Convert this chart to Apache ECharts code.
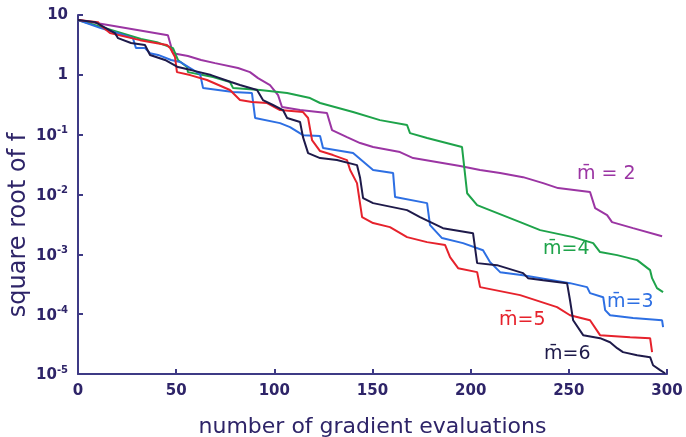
<!DOCTYPE html>
<html><head><meta charset="utf-8">
<script src="https://cdn.jsdelivr.net/npm/echarts@6/dist/echarts.min.js"></script>
<style>html,body{margin:0;padding:0;background:#fff}#c{width:686px;height:437px}</style>
</head><body><div id="c"></div>
<script>
// x-axis ticks and y-axis decades
var xTicks = [0, 50, 100, 150, 200, 250, 300];
var yDecades = [1e-5, 1e-4, 1e-3, 1e-2, 1e-1, 1, 10];
var seriesNames = ['m̄ = 2', 'm̄=4', 'm̄=3', 'm̄=5', 'm̄=6'];
var yTitle = 'square root of f';

var m2 = [[0,8.25],[15.3,6.8],[45.8,4.6],[48.4,2.3],[56,2.06],[62.7,1.77],[69.8,1.57],[81.5,1.30],[87.6,1.11],[91.7,0.88],[97.8,0.675],[101.9,0.459],[103.9,0.29],[113.1,0.258],[126.8,0.23],[129.4,0.119],[137,0.091],[143.7,0.0724],[150.3,0.0621],[164,0.0512],[170.7,0.0406],[194.6,0.0299],[204.8,0.0256],[215,0.0228],[226.7,0.0195],[236.9,0.0155],[244.5,0.0128],[260.8,0.011],[263.4,0.00593],[269.5,0.00453],[272,0.00345],[282.7,0.00274],[297.5,0.00201]];
var m4 = [[0,8.25],[32.1,3.97],[40.2,3.5],[48.4,2.8],[50.9,1.77],[55.5,1.35],[56,1.11],[68.8,0.92],[77.4,0.76],[79,0.60],[92.7,0.557],[106.5,0.496],[118.2,0.409],[123.3,0.338],[140.1,0.239],[153.8,0.175],[167.6,0.145],[169.1,0.106],[177.8,0.0878],[195.6,0.0621],[198.2,0.0105],[203.3,0.00665],[225.2,0.00345],[235.4,0.00254],[252.2,0.00194],[262.4,0.00154],[265.9,0.00109],[274.6,0.00097],[284.8,0.0008],[291.4,0.000544],[292.4,0.0004],[294.9,0.000272],[298,0.000233]];
var m3 = [[0,8.25],[11.2,6.1],[19.9,5.0],[28,4.1],[29.5,2.8],[34.1,2.8],[36.7,2.3],[40.8,2.15],[47.4,1.77],[52,1.64],[57.1,1.3],[62.2,1.03],[63.7,0.60],[79,0.515],[88.6,0.496],[90.2,0.19],[102.9,0.156],[108,0.134],[114.6,0.098],[123.3,0.095],[124.8,0.0597],[140.1,0.0492],[150.3,0.0256],[160.5,0.0228],[161.5,0.00905],[177.8,0.00718],[179.3,0.00308],[185.4,0.00187],[196.1,0.00154],[206.3,0.00117],[209.9,0.00074],[215,0.000504],[226.7,0.000449],[250.6,0.00033],[259.3,0.000283],[260.8,0.000225],[267.5,0.000192],[268.5,0.000117],[271,0.000096],[282.7,0.000086],[297.5,0.000079],[298,0.0000607]];
var m5 = [[0,8.25],[10.2,7.6],[11.2,6.8],[16.3,5.0],[31.6,3.8],[45.3,3.15],[46.9,2.8],[49.4,1.99],[50.4,1.11],[57.1,0.99],[65.7,0.82],[77.4,0.557],[82.5,0.379],[88.6,0.351],[96.3,0.338],[102.9,0.258],[114.6,0.239],[117.2,0.19],[119.2,0.0813],[123.3,0.0532],[129.9,0.0456],[137,0.0376],[138.6,0.0256],[142.1,0.0155],[144.7,0.00419],[150.3,0.00333],[158.9,0.00285],[167.6,0.00194],[177.8,0.0016],[187,0.00143],[189.5,0.000897],[193.6,0.000587],[203.3,0.000504],[204.8,0.000283],[225.2,0.000208],[244,0.000131],[250.6,0.000096],[260.8,0.000079],[265.9,0.0000446],[281.2,0.0000412],[291.4,0.0000397],[292.4,0.0000232]];
var m6 = [[0,8.25],[8.7,7.6],[18.8,5.0],[20.4,4.1],[27,3.4],[34.1,3.15],[36.7,2.15],[44.3,1.77],[50.9,1.35],[57.6,1.2],[67.8,0.99],[77.9,0.76],[82.5,0.675],[91.2,0.557],[94.2,0.379],[99.3,0.313],[104.4,0.258],[106.5,0.19],[113.1,0.163],[114.6,0.091],[117.2,0.0492],[123.3,0.0406],[131.9,0.0376],[142.1,0.031],[143.7,0.0188],[145.2,0.00871],[150.3,0.00718],[167.6,0.00548],[174.2,0.00419],[185.9,0.00274],[201.2,0.00226],[203.3,0.000713],[213.4,0.00066],[226.7,0.000485],[229.2,0.0004],[236.9,0.00037],[249.1,0.00033],[250.6,0.000171],[252.2,0.000079],[257.3,0.0000446],[265.9,0.0000397],[271,0.000034],[274.6,0.000027],[277.6,0.0000232],[284.8,0.0000206],[291.4,0.0000191],[292.9,0.000014],[296.5,0.0000116],[299,0.0000103]];

var colors = ['#9b35a3', '#1ea34a', '#2d6fe3', '#e6222c', '#1e1a4a'];
var ink = '#2e2468';
var font = 'DejaVu Sans';

var chart = echarts.init(document.getElementById('c'), null, {renderer: 'canvas'});
function mk(name, data, color) {
  return {name: name, type: 'line', data: data, showSymbol: false, symbol: 'none',
    lineStyle: {color: color, width: 2}, animation: false, z: 3};
}
chart.setOption({
  animation: false,
  backgroundColor: '#fff',
  grid: {left: 78, right: 19, top: 15, bottom: 63, containLabel: false, outerBoundsMode: 'none'},
  xAxis: {
    type: 'value', min: xTicks[0], max: xTicks[xTicks.length - 1], interval: 50,
    axisLine: {lineStyle: {color: '#3e3a85', width: 2}},
    axisTick: {inside: true, length: 5, lineStyle: {color: '#3e3a85', width: 2}},
    splitLine: {show: false},
    axisLabel: {color: ink, fontFamily: font, fontSize: 15, fontWeight: 'bold', margin: 10},
    name: 'number of gradient evaluations', nameLocation: 'middle', nameGap: 42,
    nameTextStyle: {color: ink, fontFamily: font, fontSize: 22}
  },
  yAxis: {
    type: 'log', logBase: 10, min: yDecades[0], max: yDecades[yDecades.length - 1],
    axisLine: {lineStyle: {color: '#3e3a85', width: 2}},
    axisTick: {inside: true, length: 5, lineStyle: {color: '#3e3a85', width: 2}},
    splitLine: {show: false},
    axisLabel: {
      margin: 10,
      formatter: function (v) {
        var e = Math.round(Math.log10(v));
        if (e === 1) return '{b|10}';
        if (e === 0) return '{b|1}';
        return '{b|10}{s|' + e + '}';
      },
      rich: {
        b: {color: ink, fontFamily: font, fontSize: 15, fontWeight: 'bold', verticalAlign: 'bottom'},
        s: {color: ink, fontFamily: font, fontSize: 10, fontWeight: 'bold', verticalAlign: 'top', padding: [0, 0, 8, 0]}
      }
    }
  },
  series: [mk(seriesNames[0], m2, colors[0]), mk(seriesNames[1], m4, colors[1]),
           mk(seriesNames[2], m3, colors[2]), mk(seriesNames[3], m5, colors[3]),
           mk(seriesNames[4], m6, colors[4])],
  graphic: [
    {type: 'text', x: 19, y: 225, rotation: Math.PI / 2,
      style: {text: yTitle, fill: ink, font: '24px "DejaVu Sans"', align: 'center', verticalAlign: 'middle'}},
    {type: 'text', left: 577, top: 165, style: {text: seriesNames[0], fill: colors[0], font: '19px "DejaVu Sans"'}},
    {type: 'text', left: 543, top: 240, style: {text: seriesNames[1], fill: colors[1], font: '19px "DejaVu Sans"'}},
    {type: 'text', left: 607, top: 293, style: {text: seriesNames[2], fill: colors[2], font: '19px "DejaVu Sans"'}},
    {type: 'text', left: 499, top: 311, style: {text: seriesNames[3], fill: colors[3], font: '19px "DejaVu Sans"'}},
    {type: 'text', left: 544, top: 345, style: {text: seriesNames[4], fill: colors[4], font: '19px "DejaVu Sans"'}}
  ]
});
</script></body></html>
